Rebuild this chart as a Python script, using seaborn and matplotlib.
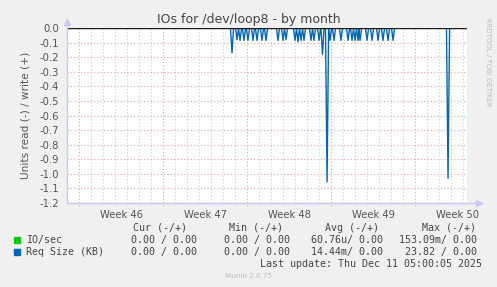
import numpy as np
import pandas as pd
import matplotlib
matplotlib.use("Agg")
import matplotlib.pyplot as plt
import seaborn as sns

# ---- data (days since Mon Nov 10 2025, i.e. start of Week 46) ----
spike_day = [12.75, 13.17, 13.42, 13.75, 14.08, 14.5, 14.83, 15.25, 15.58,
             16.58, 17.0, 17.25, 18.0, 18.25, 18.5, 18.75, 19.33, 19.58,
             20.0, 20.29, 20.67, 20.92, 21.25, 21.83, 22.42, 22.75, 23.0,
             23.25, 23.42, 24.0, 24.42, 24.92, 25.33, 25.75, 26.17, 30.75]
spike_value = [-0.17, -0.08, -0.085, -0.085, -0.085, -0.085, -0.085, -0.085, -0.085,
               -0.085, -0.085, -0.08, -0.085, -0.095, -0.085, -0.085, -0.085, -0.085,
               -0.085, -0.18, -1.055, -0.085, -0.085, -0.085, -0.085, -0.085, -0.085,
               -0.085, -0.085, -0.085, -0.085, -0.085, -0.085, -0.085, -0.085, -1.03]
x_start, x_end = -1.0, 32.33
week_starts = [0, 7, 14, 21, 28]
week_labels = ["Week 46", "Week 47", "Week 48", "Week 49", "Week 50"]
y_ticks = [0.0, -0.1, -0.2, -0.3, -0.4, -0.5, -0.6, -0.7, -0.8, -0.9, -1.0, -1.1, -1.2]

legend_names = ["IO/sec", "Req Size (KB)"]
legend_colors = ["#00CC00", "#0066B3"]
col_headers = ["Cur (-/+)", "Min (-/+)", "Avg (-/+)", "Max (-/+)"]
col_values = [["0.00 / 0.00", "0.00 / 0.00", "60.76u/ 0.00", "153.09m/ 0.00"],
              ["0.00 / 0.00", "0.00 / 0.00", "14.44m/ 0.00", "23.82 / 0.00"]]

# build the series: zero baseline with each spike drawn as a narrow V
hw = 0.13
xs, ys = [x_start], [0.0]
for d, v in zip(spike_day, spike_value):
    xs += [d - hw, d, d + hw]
    ys += [0.0, v, 0.0]
xs.append(x_end); ys.append(0.0)
df = pd.DataFrame({"day": xs, "value": ys})

sns.set_style("white")
plt.rcParams['font.family'] = ['DejaVu Sans']

W, H = 497, 287
fig = plt.figure(figsize=(W / 100, H / 100), dpi=100, facecolor="#F0F0F0")
ax = fig.add_axes([67 / W, 1 - 203 / H, 400 / W, 175 / H])
ax.set_facecolor("white")

ax.set_xlim(x_start, x_end)
ax.set_ylim(-1.2, 0.0)

# grid
for d in np.arange(np.ceil(x_start), x_end):
    if int(d) % 7 == 0:
        continue
    ax.axvline(d, color="#cccccc", lw=0.8, ls=(0, (1, 2)), zorder=0.5)
for d in week_starts:
    ax.axvline(d, ymin=-0.015, ymax=1, color="#e6a4a4", lw=0.8, ls=(0, (1, 2)),
               zorder=0.6, clip_on=False)
for yv in y_ticks:
    ax.axhline(yv, color="#e6a4a4", lw=0.8, ls=(0, (1, 2)), zorder=0.6)

sns.lineplot(data=df, x="day", y="value", ax=ax, color="#0066B3", lw=1.0,
             estimator=None, sort=False, zorder=3)
ax.axhline(0.0, color="#1a1a1a", lw=1.0, zorder=4)

for s in ax.spines.values():
    s.set_visible(False)

ax.set_yticks(y_ticks)
ax.set_yticklabels([f"{v:.1f}" for v in y_ticks])
ax.set_xticks([w + 3.5 for w in week_starts])
ax.set_xticklabels(week_labels)
ax.tick_params(axis="both", length=0, labelsize=7.2, colors="#555555", pad=4)
ax.tick_params(axis="y", pad=6)
ax.tick_params(axis="x", pad=5)
ax.set_xlabel("")
ax.set_ylabel("Units read (-) / write (+)", fontsize=7.6, color="#555555", labelpad=6)

# axis lines with arrows
axc = "#c8c8f0"
ax.plot([0, 0], [0, 1.03], transform=ax.transAxes, color=axc, lw=1, clip_on=False, zorder=5)
ax.plot([0, 1.03], [0, 0], transform=ax.transAxes, color=axc, lw=1, clip_on=False, zorder=5)
ax.plot([0], [1.035], transform=ax.transAxes, marker="^", ms=4, color=axc, clip_on=False, zorder=5)
ax.plot([1.03], [0], transform=ax.transAxes, marker=">", ms=4, color=axc, clip_on=False, zorder=5)

fig.text(248.5 / W, 1 - 19 / H, "IOs for /dev/loop8 - by month", ha="center", va="center",
         fontsize=9, color="#444444")
fig.text(488 / W, 1 - 62 / H, "RRDTOOL / TOBI OETIKER", rotation=270, ha="center", va="center",
         fontsize=5, color="#bbbbbb")

mono = "DejaVu Sans Mono"
fs = 7.2
hdr_right = [187, 283, 379, 476]
val_right = [197, 290, 383, 477]
for hx, h in zip(hdr_right, col_headers):
    fig.text(hx / W, 1 - 228 / H, h, ha="right", va="center", family=mono, fontsize=fs, color="#444444")
row_y = [239.5, 252]
for ry, name, col, vals in zip(row_y, legend_names, legend_colors, col_values):
    fig.patches.append(plt.Rectangle((14 / W, 1 - (ry + 3) / H), 6 / W, 6 / H,
                                     transform=fig.transFigure, color=col))
    fig.text(26 / W, 1 - ry / H, name, ha="left", va="center", family=mono, fontsize=fs, color="#444444")
    for vx, v in zip(val_right, vals):
        fig.text(vx / W, 1 - ry / H, v, ha="right", va="center", family=mono, fontsize=fs, color="#444444")
fig.text(482 / W, 1 - 264 / H, "Last update: Thu Dec 11 05:00:05 2025", ha="right", va="center",
         family=mono, fontsize=fs, color="#444444")
fig.text(248.5 / W, 1 - 276.5 / H, "Munin 2.0.75", ha="center", va="center",
         fontsize=5.2, color="#bbbbbb")

fig.savefig("out.png", dpi=100, facecolor=fig.get_facecolor())
